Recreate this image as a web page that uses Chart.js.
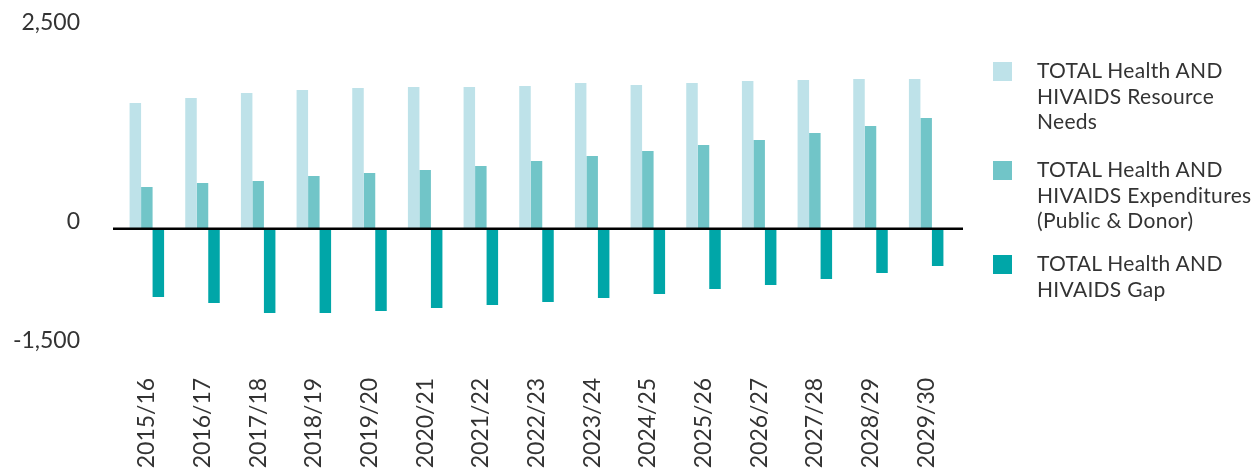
<!DOCTYPE html>
<html>
<head>
<meta charset="utf-8">
<script src="https://cdn.jsdelivr.net/npm/chart.js@4.4.1/dist/chart.umd.min.js"></script>
<style>
body { margin: 0; background: #fff; }
#wrap { position: relative; width: 1253px; height: 470px; overflow: hidden; }
#legend { position: absolute; left: 993px; top: 0; font-family: Lato, sans-serif; font-size: 21px; letter-spacing: 0.3px; color: #333; }
.item { position: absolute; left: 0; width: 260px; }
.box { position: absolute; left: 0; top: 5px; width: 19px; height: 19px; }
.txt { position: absolute; left: 44px; top: 0; white-space: pre; line-height: 25.5px; }
</style>
</head>
<body>
<div id="wrap">
  <canvas id="chart" width="1253" height="470"></canvas>
  <div id="legend"></div>
</div>
<script>
const years = ['2015/16', '2016/17', '2017/18', '2018/19', '2019/20', '2020/21', '2021/22', '2022/23',
    '2023/24', '2024/25', '2025/26', '2026/27', '2027/28', '2028/29', '2029/30'];
const seriesNames = [
    'TOTAL Health AND\nHIVAIDS Resource\nNeeds',
    'TOTAL Health AND\nHIVAIDS Expenditures\n(Public & Donor)',
    'TOTAL Health AND\nHIVAIDS Gap'
];
const resourceNeeds = [1582, 1645, 1708, 1745, 1771, 1783, 1783, 1796, 1834, 1809, 1834, 1859, 1872, 1884, 1884];
const expenditures = [524, 574, 600, 662, 700, 738, 788, 851, 914, 977, 1053, 1116, 1204, 1292, 1393];
const gap = [-862, -937, -1063, -1063, -1038, -1000, -962, -924, -874, -824, -761, -710, -635, -559, -471];
const yTicks = [2500, 0, -1500];

const colors = ['#bee2e9', '#71c5c8', '#00a6a8'];
const legendTops = [57, 156, 250];

const tickFont = { family: 'Lato, sans-serif', size: 23 };

// black zero line, a bit wider than the plot area and drawn over the bars
const zeroLine = {
    id: 'zeroLine',
    afterDatasetsDraw(chart) {
        const { ctx, chartArea: a, scales: { y } } = chart;
        const py = y.getPixelForValue(0);
        ctx.save();
        ctx.strokeStyle = '#000';
        ctx.lineWidth = 2.5;
        ctx.beginPath();
        ctx.moveTo(a.left - 6, py);
        ctx.lineTo(a.right + 9, py);
        ctx.stroke();
        ctx.restore();
    }
};

const series = [resourceNeeds, expenditures, gap];
const datasets = series.map(function(vals, i) {
    return {
        label: seriesNames[i].replace(/\n/g, ' '),
        data: vals,
        backgroundColor: colors[i],
        borderWidth: 0,
        barPercentage: 1.0,
        categoryPercentage: 0.62
    };
});

const chart = new Chart(document.getElementById('chart').getContext('2d'), {
    type: 'bar',
    data: { labels: years, datasets: datasets },
    options: {
        responsive: false,
        animation: false,
        layout: { padding: { top: 30, right: 299, left: 0, bottom: 0 } },
        plugins: {
            legend: { display: false },
            tooltip: { enabled: false }
        },
        scales: {
            x: {
                grid: { display: false, drawTicks: false },
                border: { display: false },
                ticks: {
                    autoSkip: false,
                    minRotation: 90,
                    maxRotation: 90,
                    padding: 30,
                    color: '#333',
                    font: tickFont
                },
                afterFit(s) { s.height = 122.2; }
            },
            y: {
                min: -1500,
                max: 2500,
                grid: { display: false, drawTicks: false },
                border: { display: false },
                ticks: {
                    padding: 39,
                    labelOffset: -7,
                    color: '#333',
                    font: tickFont
                },
                afterBuildTicks(s) { s.ticks = yTicks.map(v => ({ value: v })); },
                afterFit(s) {
                    s.width = 119;
                    s.paddingTop = 0;
                    s.paddingBottom = 0;
                }
            }
        }
    },
    plugins: [zeroLine]
});

// legend as html so the labels can wrap like the original
const legend = document.getElementById('legend');
chart.data.datasets.forEach(function(ds, i) {
    const item = document.createElement('div');
    item.className = 'item';
    item.style.top = legendTops[i] + 'px';
    const box = document.createElement('div');
    box.className = 'box';
    box.style.background = ds.backgroundColor;
    const txt = document.createElement('div');
    txt.className = 'txt';
    txt.textContent = seriesNames[i];
    item.appendChild(box);
    item.appendChild(txt);
    legend.appendChild(item);
});
</script>
</body>
</html>
